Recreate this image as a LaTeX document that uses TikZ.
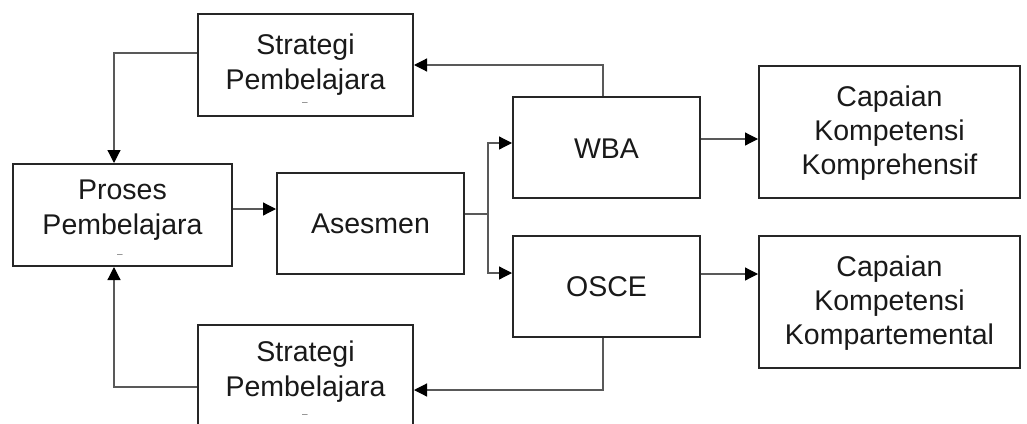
\documentclass[tikz,border=0pt]{standalone}
\usepackage{fontspec}
\setmainfont{Liberation Sans}
\usetikzlibrary{arrows.meta}
\begin{document}
\begin{tikzpicture}[x=1pt,y=-1pt,
  box/.style={draw=black!85, line width=2pt, inner sep=0pt},
  lbl/.style={align=center, inner sep=0pt, text=black!90, font=\fontsize{28.5}{35}\selectfont},
  tiny/.style={inner sep=0pt, text=black!60, font=\fontsize{10}{10}\selectfont},
  conn/.style={draw=black!65, line width=1.2pt},
  arr/.style={conn, -{Triangle[length=13pt,width=13pt,black]}}]
\useasboundingbox (0,0) rectangle (1027,423);
\clip (0,0) rectangle (1027,423);
% boxes
\node[box, minimum width=215pt, minimum height=102pt] (st1) at (305.5,65) {};
\node[box, minimum width=219pt, minimum height=102pt] (proses) at (122.5,215) {};
\node[box, minimum width=215pt, minimum height=102pt] (st2) at (305.5,376) {};
\node[box, minimum width=187pt, minimum height=101pt] (ases) at (370.5,223.5) {};
\node[box, minimum width=187pt, minimum height=101pt] (wba) at (606.5,147.5) {};
\node[box, minimum width=187pt, minimum height=101pt] (osce) at (606.5,286.5) {};
\node[box, minimum width=261pt, minimum height=132pt] (cap1) at (889.5,132) {};
\node[box, minimum width=261pt, minimum height=132pt] (cap2) at (889.5,302) {};
% labels
\node[lbl] (st1t) at (305.5,65) {Strategi\\Pembelajara};
\node[tiny] (st1d) at (305,104) {--};
\node[lbl] (prot) at (122.5,210.5) {Proses\\Pembelajara};
\node[tiny] (prod) at (120,256) {--};
\node[lbl] (st2t) at (305.5,371.5) {Strategi\\Pembelajara};
\node[tiny] (st2d) at (305,416) {--};
\node[lbl] (asest) at (370.5,224) {Asesmen};
\node[lbl] (wbat) at (606.5,149) {WBA};
\node[lbl] (oscet) at (606.5,287) {OSCE};
\node[lbl, font=\fontsize{28.5}{34}\selectfont] (cap1t) at (889.5,133) {Capaian\\Kompetensi\\Komprehensif};
\node[lbl, font=\fontsize{28.5}{34}\selectfont] (cap2t) at (889.5,303) {Capaian\\Kompetensi\\Kompartemental};
% connectors
\coordinate (c1) at (114,53);
\draw[arr] (st1.west |- c1) -- (c1) -- (c1 |- proses.north);
\coordinate (c2) at (603,65);
\draw[arr] (wba.north -| c2) -- (c2) -- (c2 -| st1.east);
\coordinate (c3) at (0,209);
\draw[arr] (proses.east |- c3) -- (ases.west |- c3);
\coordinate (b0) at (488,214);
\coordinate (b1) at (488,143);
\coordinate (b2) at (488,273);
\draw[conn] (ases.east |- b0) -- (b0);
\draw[arr] (b0) -- (b1) -- (wba.west |- b1);
\draw[arr] (b0) -- (b2) -- (osce.west |- b2);
\coordinate (c4) at (0,139);
\draw[arr] (wba.east |- c4) -- (cap1.west |- c4);
\coordinate (c5) at (0,274);
\draw[arr] (osce.east |- c5) -- (cap2.west |- c5);
\coordinate (c6) at (603,390);
\draw[arr] (osce.south -| c6) -- (c6) -- (c6 -| st2.east);
\coordinate (c7) at (114,387);
\draw[arr] (st2.west |- c7) -- (c7) -- (c7 |- proses.south);
\end{tikzpicture}
\end{document}
